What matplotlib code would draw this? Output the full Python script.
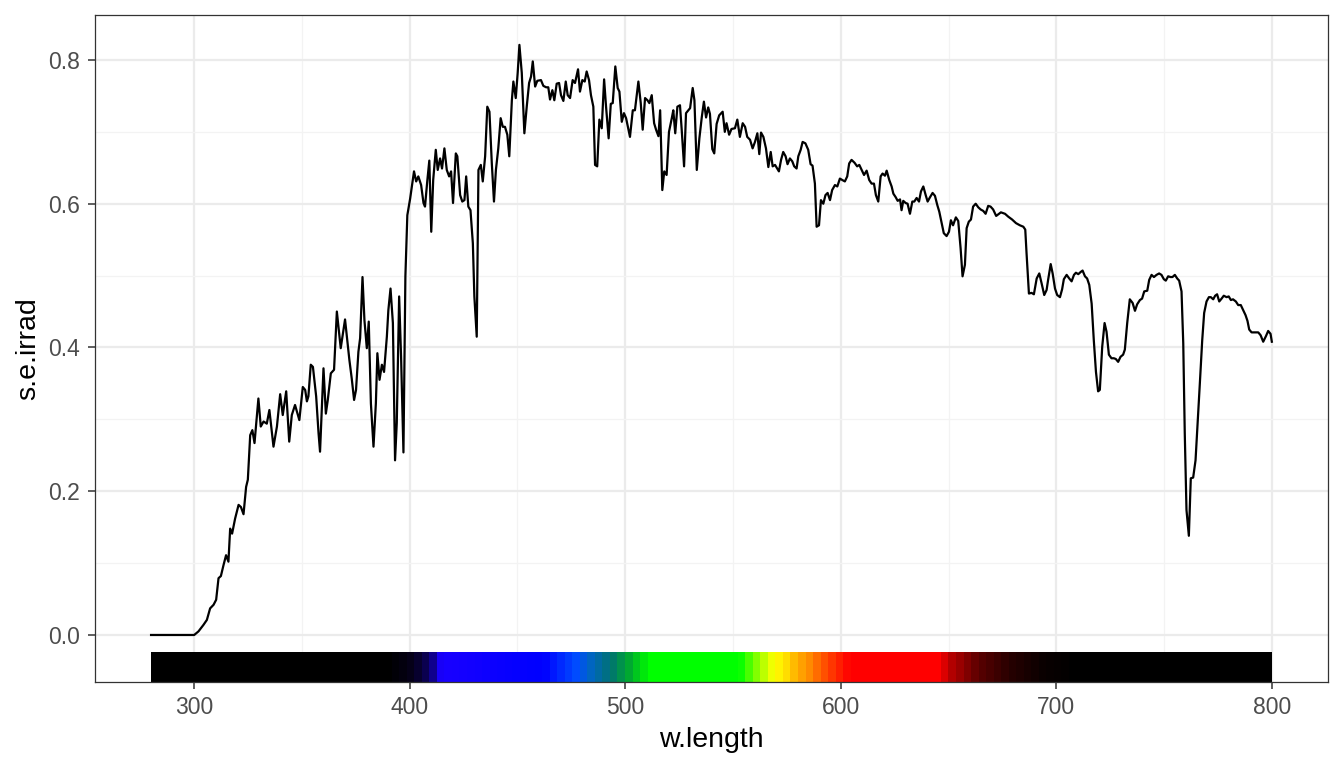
import numpy as np
import matplotlib
matplotlib.use("Agg")
import matplotlib.pyplot as plt

plt.rcParams['font.family'] = ['Liberation Sans', 'DejaVu Sans']

# spectrum (nm, W m-2 nm-1)
w_length = [280.0, 300.0, 302.0, 304.3, 305.9, 307.4, 309.0, 310.2, 311.3, 312.4, 313.6, 314.8, 315.9, 316.7,
            317.6, 319.0, 320.6, 321.7, 322.9, 324.1, 324.9, 326.0, 327.0, 328.0, 329.8, 330.9, 332.2, 333.7,
            334.9, 336.8, 338.4, 339.9, 341.1, 342.7, 344.1, 345.3, 346.8, 348.8, 350.4, 351.5, 352.3, 353.0,
            354.1, 355.1, 356.6, 357.7, 358.4, 360.0, 361.1, 362.0, 363.4, 364.9, 366.2, 368.0, 370.0, 372.0,
            373.1, 374.2, 375.1, 376.2, 377.0, 378.1, 379.0, 380.1, 381.0, 382.0, 383.2, 384.3, 385.0, 386.0,
            387.1, 388.1, 389.4, 390.1, 391.1, 392.2, 393.2, 394.0, 395.1, 396.0, 397.1, 398.0, 398.9, 400.2,
            402.0, 403.0, 404.0, 405.3, 406.4, 407.1, 408.2, 409.1, 410.0, 410.9, 412.1, 413.0, 414.1, 415.0,
            416.1, 417.2, 418.3, 419.2, 420.1, 421.4, 422.1, 423.4, 424.4, 425.4, 426.2, 427.2, 428.2, 429.3,
            430.0, 431.1, 431.9, 433.0, 433.9, 435.0, 436.0, 437.0, 438.1, 439.1, 440.0, 441.1, 442.2, 443.2,
            444.2, 445.3, 446.2, 447.4, 448.1, 449.2, 450.1, 450.9, 452.0, 453.2, 454.3, 455.4, 456.3, 457.1,
            458.2, 459.2, 460.9, 462.0, 463.3, 464.3, 465.1, 466.2, 467.1, 468.2, 469.3, 470.2, 471.3, 472.4,
            473.3, 474.4, 475.6, 476.7, 478.1, 479.0, 480.1, 481.2, 482.1, 483.2, 484.1, 485.2, 486.0, 487.0,
            488.0, 489.1, 490.2, 491.1, 492.3, 493.3, 494.2, 495.4, 496.5, 497.3, 498.4, 499.4, 500.4, 502.2,
            503.5, 504.5, 506.1, 507.2, 508.1, 509.2, 510.3, 511.2, 512.3, 513.4, 514.3, 515.4, 516.2, 517.2,
            518.1, 519.2, 520.3, 521.6, 522.3, 523.2, 524.2, 525.4, 526.2, 527.3, 528.2, 529.3, 530.1, 531.3,
            532.1, 533.2, 534.4, 535.5, 536.5, 537.5, 538.5, 539.3, 540.4, 541.3, 542.4, 543.6, 545.2, 546.2,
            547.0, 548.2, 549.3, 550.9, 552.0, 553.2, 554.5, 555.6, 556.6, 557.9, 559.1, 560.2, 561.3, 562.2,
            563.0, 564.1, 565.3, 566.4, 567.5, 568.4, 569.5, 570.5, 571.3, 572.3, 573.3, 574.4, 575.3, 576.4,
            577.5, 578.4, 579.5, 580.3, 581.4, 582.3, 583.6, 584.9, 586.0, 586.9, 588.0, 588.8, 589.9, 590.8,
            591.9, 592.9, 593.9, 595.0, 596.0, 597.3, 598.4, 599.6, 600.7, 601.9, 603.0, 603.9, 605.0, 606.4,
            607.6, 608.6, 609.7, 610.8, 612.0, 613.2, 614.3, 615.4, 616.3, 617.4, 618.5, 619.4, 620.5, 621.3,
            622.5, 623.6, 624.4, 625.5, 626.4, 627.5, 628.2, 629.0, 630.1, 631.0, 632.1, 633.2, 634.1, 635.2,
            636.3, 637.2, 638.3, 639.4, 640.3, 641.4, 642.6, 643.7, 644.8, 645.7, 646.8, 647.8, 649.1, 650.2,
            651.1, 652.1, 653.4, 654.5, 655.6, 656.5, 657.6, 658.4, 659.4, 660.4, 661.4, 662.6, 663.8, 664.9,
            666.1, 667.2, 668.4, 669.5, 670.7, 672.1, 674.3, 676.2, 677.7, 679.5, 681.3, 683.1, 684.7, 685.6,
            686.2, 687.3, 688.5, 689.6, 690.9, 692.1, 693.2, 694.4, 695.5, 696.2, 697.4, 698.3, 699.4, 700.4,
            701.7, 702.7, 703.5, 704.8, 706.0, 707.1, 708.2, 709.1, 710.2, 711.3, 712.2, 713.3, 714.3, 715.3,
            716.4, 717.4, 718.4, 719.4, 720.2, 721.3, 722.4, 723.3, 724.4, 725.6, 726.7, 727.6, 728.7, 729.8,
            731.0, 731.8, 732.9, 734.1, 735.4, 736.5, 737.5, 738.8, 739.8, 740.8, 742.2, 743.1, 744.2, 745.3,
            746.5, 747.7, 748.8, 749.9, 750.8, 751.9, 753.0, 753.9, 755.0, 756.1, 757.0, 758.1, 758.9, 759.6,
            760.4, 761.5, 762.4, 763.5, 764.6, 765.5, 766.6, 767.7, 768.6, 769.7, 770.8, 771.7, 772.8, 773.7,
            774.6, 775.6, 776.7, 777.7, 779.0, 780.0, 781.0, 782.0, 783.3, 784.4, 785.6, 786.7, 787.8, 788.7,
            789.5, 790.6, 792.1, 793.7, 794.8, 796.0, 797.3, 798.3, 799.4, 800.0]

s_e_irrad = [0.0, 0.0, 0.005, 0.014, 0.021, 0.037, 0.042, 0.049, 0.079, 0.082, 0.097, 0.111, 0.102, 0.148,
             0.141, 0.162, 0.181, 0.178, 0.168, 0.206, 0.216, 0.278, 0.285, 0.267, 0.329, 0.290, 0.297, 0.294,
             0.313, 0.262, 0.290, 0.335, 0.306, 0.339, 0.269, 0.306, 0.320, 0.299, 0.345, 0.341, 0.325, 0.332,
             0.376, 0.373, 0.332, 0.281, 0.255, 0.371, 0.308, 0.327, 0.364, 0.369, 0.450, 0.399, 0.439, 0.383,
             0.357, 0.327, 0.341, 0.394, 0.413, 0.498, 0.438, 0.399, 0.436, 0.322, 0.262, 0.322, 0.392, 0.355,
             0.376, 0.366, 0.415, 0.452, 0.482, 0.434, 0.243, 0.295, 0.471, 0.387, 0.254, 0.499, 0.584, 0.607,
             0.645, 0.631, 0.638, 0.626, 0.601, 0.596, 0.633, 0.660, 0.561, 0.633, 0.675, 0.647, 0.663, 0.649,
             0.677, 0.647, 0.638, 0.645, 0.601, 0.670, 0.666, 0.612, 0.603, 0.605, 0.638, 0.596, 0.591, 0.545,
             0.471, 0.415, 0.647, 0.654, 0.631, 0.666, 0.735, 0.728, 0.656, 0.603, 0.647, 0.677, 0.719, 0.707,
             0.707, 0.696, 0.666, 0.744, 0.770, 0.747, 0.782, 0.821, 0.782, 0.698, 0.735, 0.768, 0.777, 0.798,
             0.763, 0.771, 0.772, 0.764, 0.762, 0.762, 0.745, 0.758, 0.744, 0.767, 0.768, 0.751, 0.743, 0.770,
             0.751, 0.747, 0.772, 0.768, 0.787, 0.756, 0.772, 0.770, 0.784, 0.772, 0.751, 0.735, 0.654, 0.652,
             0.717, 0.705, 0.773, 0.735, 0.691, 0.739, 0.740, 0.791, 0.761, 0.756, 0.714, 0.726, 0.719, 0.693,
             0.730, 0.730, 0.770, 0.740, 0.703, 0.747, 0.744, 0.740, 0.751, 0.712, 0.703, 0.694, 0.730, 0.619,
             0.645, 0.640, 0.700, 0.719, 0.730, 0.698, 0.735, 0.737, 0.703, 0.652, 0.726, 0.730, 0.733, 0.761,
             0.744, 0.647, 0.691, 0.720, 0.742, 0.720, 0.734, 0.725, 0.676, 0.670, 0.711, 0.723, 0.728, 0.700,
             0.712, 0.696, 0.704, 0.705, 0.717, 0.693, 0.712, 0.707, 0.693, 0.689, 0.677, 0.686, 0.698, 0.669,
             0.699, 0.693, 0.677, 0.651, 0.672, 0.652, 0.654, 0.649, 0.645, 0.661, 0.672, 0.666, 0.655, 0.663,
             0.659, 0.652, 0.649, 0.666, 0.675, 0.686, 0.684, 0.675, 0.655, 0.653, 0.628, 0.568, 0.570, 0.605,
             0.600, 0.612, 0.615, 0.605, 0.619, 0.626, 0.624, 0.635, 0.633, 0.631, 0.638, 0.656, 0.661, 0.657,
             0.652, 0.654, 0.647, 0.640, 0.646, 0.633, 0.628, 0.628, 0.612, 0.603, 0.638, 0.642, 0.639, 0.646,
             0.633, 0.624, 0.614, 0.609, 0.604, 0.606, 0.591, 0.604, 0.601, 0.600, 0.586, 0.603, 0.603, 0.608,
             0.603, 0.617, 0.624, 0.612, 0.603, 0.609, 0.615, 0.611, 0.598, 0.589, 0.573, 0.559, 0.555, 0.561,
             0.577, 0.570, 0.581, 0.576, 0.538, 0.499, 0.515, 0.566, 0.575, 0.578, 0.596, 0.600, 0.595, 0.592,
             0.590, 0.586, 0.597, 0.596, 0.592, 0.583, 0.588, 0.586, 0.582, 0.578, 0.573, 0.570, 0.568, 0.564,
             0.531, 0.475, 0.476, 0.474, 0.496, 0.503, 0.489, 0.473, 0.480, 0.494, 0.516, 0.503, 0.482, 0.473,
             0.470, 0.481, 0.495, 0.501, 0.496, 0.492, 0.501, 0.504, 0.502, 0.505, 0.507, 0.499, 0.496, 0.487,
             0.461, 0.410, 0.366, 0.339, 0.341, 0.401, 0.434, 0.422, 0.390, 0.385, 0.385, 0.384, 0.380, 0.387,
             0.390, 0.397, 0.434, 0.467, 0.462, 0.451, 0.460, 0.466, 0.468, 0.478, 0.479, 0.494, 0.501, 0.498,
             0.501, 0.503, 0.501, 0.495, 0.493, 0.499, 0.498, 0.498, 0.501, 0.496, 0.493, 0.478, 0.406, 0.281,
             0.174, 0.138, 0.218, 0.219, 0.243, 0.290, 0.350, 0.410, 0.448, 0.464, 0.470, 0.470, 0.467, 0.472,
             0.474, 0.464, 0.468, 0.472, 0.470, 0.471, 0.466, 0.467, 0.464, 0.459, 0.459, 0.452, 0.445, 0.437,
             0.425, 0.421, 0.421, 0.421, 0.417, 0.408, 0.416, 0.423, 0.419, 0.408]

# colour stops of the wavelength colour bar
stop_wl = [280, 390, 400, 405, 410, 415, 430, 445, 463, 470, 478, 485, 494, 502, 509, 511,
           554, 560, 567, 570, 575, 580, 586, 592, 599, 605, 647, 651, 658, 665, 680, 695, 710, 800]
stop_rgb = [(0, 0, 0), (0, 0, 0), (0.02, 0, 0.08), (0.03, 0, 0.2), (0.05, 0, 0.4), (0.1, 0, 1),
            (0.07, 0, 1), (0.03, 0, 1), (0, 0, 1), (0, 0.15, 1), (0, 0.3, 1), (0, 0.4, 0.75),
            (0, 0.45, 0.45), (0, 0.65, 0.2), (0, 0.9, 0.05), (0, 1, 0), (0, 1, 0), (0.4, 1, 0),
            (0.85, 1, 0), (1, 1, 0), (1, 0.9, 0), (1, 0.7, 0), (1, 0.55, 0), (1, 0.35, 0),
            (1, 0.15, 0), (1, 0, 0), (1, 0, 0), (0.75, 0, 0), (0.55, 0, 0), (0.35, 0, 0),
            (0.15, 0, 0), (0.04, 0, 0), (0, 0, 0), (0, 0, 0)]

fig = plt.figure(figsize=(13.44, 7.68), dpi=100)
ax = fig.add_axes([0.0707, 0.112, 0.9173, 0.8685])

y_lo, y_hi = -0.0654, 0.8626
bar_top = -0.025

# colour bar, drawn in small steps
edges = np.arange(280, 800.01, 3.5)
if edges[-1] < 800:
    edges = np.append(edges, 800)
mids = (edges[:-1] + edges[1:]) / 2
rgb = np.array(stop_rgb)
cols = np.stack([np.interp(mids, stop_wl, rgb[:, k]) for k in range(3)], axis=1)
ax.imshow(cols[np.newaxis, :, :], extent=[280, 800, y_lo, bar_top], aspect='auto',
          interpolation='nearest', zorder=2)

ax.plot(w_length, s_e_irrad, color='black', linewidth=1.6, zorder=3)

ax.set_xlim(254, 826)
ax.set_ylim(y_lo, y_hi)
ax.set_xticks([300, 400, 500, 600, 700, 800])
ax.set_xticks([350, 450, 550, 650, 750], minor=True)
ax.set_yticks([0.0, 0.2, 0.4, 0.6, 0.8])
ax.set_yticks([0.1, 0.3, 0.5, 0.7], minor=True)
ax.set_yticklabels(['0.0', '0.2', '0.4', '0.6', '0.8'])

ax.grid(which='major', color='#EBEBEB', linewidth=1.6, zorder=0)
ax.grid(which='minor', color='#F3F3F3', linewidth=0.9, zorder=0)
ax.set_axisbelow(True)

for s in ax.spines.values():
    s.set_color('#333333')
    s.set_linewidth(0.9)

ax.tick_params(which='major', length=5, width=1.1, color='#333333', labelcolor='#4D4D4D',
               labelsize=16.5)
ax.tick_params(axis='x', which='major', pad=5)
ax.tick_params(axis='y', which='major', pad=6)
ax.tick_params(which='minor', length=0)

ax.set_xlabel('w.length', fontsize=20.5, labelpad=6)
ax.set_ylabel('s.e.irrad', fontsize=20.5, labelpad=5)

fig.savefig('out.png', dpi=100)
